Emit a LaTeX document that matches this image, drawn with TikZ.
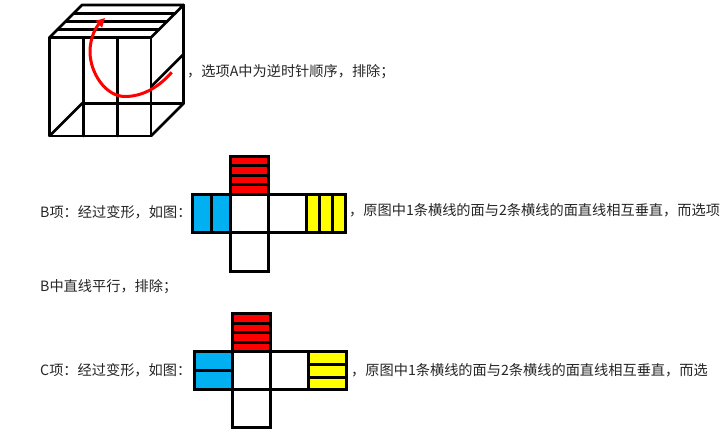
\documentclass[tikz,border=0pt]{standalone}
\usepackage{fontspec}
\newfontfamily\cjk{Noto Sans CJK SC}
\usetikzlibrary{arrows.meta}
\definecolor{netred}{HTML}{FF0000}
\definecolor{netblue}{HTML}{00B0F0}
\definecolor{netyellow}{HTML}{FFFF00}
\begin{document}
\begin{tikzpicture}[
	x=1pt, y=-1pt,
	edge/.style={line width=2.8pt, line cap=round, line join=round},
	face/.style={line width=3pt, draw=black},
	caption/.style={anchor=base west, inner sep=0pt, text=black!85, font=\cjk\fontsize{14.2}{16}\selectfont}
]
	\fill[white] (0,0) rectangle (727,435);
	\useasboundingbox (0,0) rectangle (727,435);

	\draw[edge] (49.5,37.5) rectangle (151,136);
	\draw[edge] (83.3,37.5) -- (83.3,136) (117.2,37.5) -- (117.2,136);
	\draw[edge] (49.5,37.5) -- (82,5) -- (183.5,5) -- (151,37.5);
	\foreach \k in {1,2,3}
		\draw[edge] ({49.5+32.5*\k/4},{37.5-32.5*\k/4}) -- ({151+32.5*\k/4},{37.5-32.5*\k/4});
	\draw[edge] (183.5,5) -- (183.5,103.5) -- (151,136);
	\draw[edge] (151,86.75) -- (183.5,54.25);
	\draw[edge] (49.5,136) -- (82,103.5) -- (183.5,103.5);
	\draw[red, line width=3pt, -{Triangle[length=9pt,width=9pt]}] (171.7,72.3) .. controls (158,88) and (142,96.5) .. (125,96.5) .. controls (105,96.5) and (90,72) .. (90,52) .. controls (90,36) and (97,26) .. (105,18);
	\node[caption] (noteA) at (187,76.3) {，选项A中为逆时针顺序，排除；};

	\begin{scope}[shift={(192,194.5)}, x=38.3pt, y=-38.3pt]
		\fill[netblue] (0,0) rectangle (1,1);
		\fill[netyellow] (3,0) rectangle (4,1);
		\fill[netred] (1,-1) rectangle (2,0);
		\draw[face] (0,0) rectangle (4,1);
		\draw[face] (1,-1) rectangle (2,2);
		\draw[face] (3,0) -- (3,1);
		\draw[face] (0.5,0) -- (0.5,1);
		\foreach \k in {1,2}
			\draw[face] ({3+\k/3},0) -- ++(0,1);
		\foreach \k in {1,2,3}
			\draw[face] (1,{-1+\k/4}) -- ++(1,0);
	\end{scope}
	\node[caption] (stepB) at (40,218) {B项：经过变形，如图：};
	\node[caption] (reasonB) at (349,216) {，原图中1条横线的面与2条横线的面直线相互垂直，而选项};
	\node[caption] (endB) at (40,291) {B中直线平行，排除；};

	\begin{scope}[shift={(194,351.7)}, x=38.1pt, y=-38.1pt]
		\fill[netblue] (0,0) rectangle (1,1);
		\fill[netyellow] (3,0) rectangle (4,1);
		\fill[netred] (1,-1) rectangle (2,0);
		\draw[face] (0,0) rectangle (4,1);
		\draw[face] (1,-1) rectangle (2,2);
		\draw[face] (3,0) -- (3,1);
		\draw[face] (0,0.5) -- (1,0.5);
		\foreach \k in {1,2}
			\draw[face] (3,{\k/3}) -- ++(1,0);
		\foreach \k in {1,2,3}
			\draw[face] (1,{-1+\k/4}) -- ++(1,0);
	\end{scope}
	\node[caption] (stepC) at (40,375.5) {C项：经过变形，如图：};
	\node[caption] (reasonC) at (351,375.5) {，原图中1条横线的面与2条横线的面直线相互垂直，而选};
\end{tikzpicture}
\end{document}
